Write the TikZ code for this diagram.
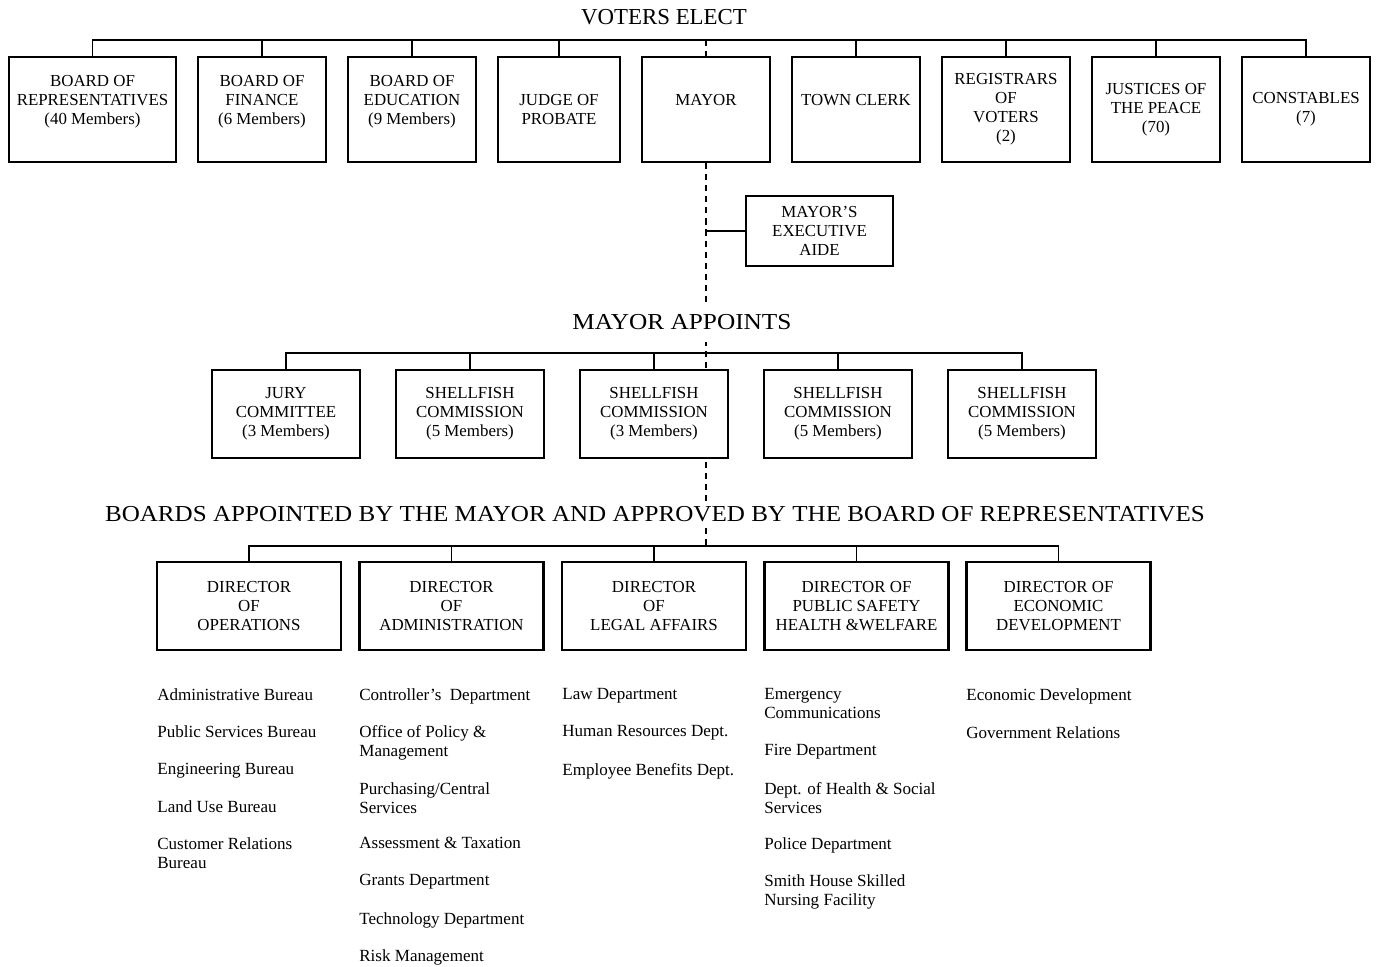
\documentclass[tikz,border=0pt]{standalone}
\usepackage{fontspec}
\usepackage{graphicx}
\setmainfont{Liberation Serif}
\usetikzlibrary{backgrounds}

\begin{document}
\begin{tikzpicture}[
    x=0.02cm, y=-0.02cm,
    office/.style={draw, line width=1.2pt, fill=white, align=center, inner sep=0pt, font=\fontsize{9.6}{10.8}\selectfont},
    elected/.style={office, minimum height=2.1cm},
    appointed/.style={office, minimum width=2.96cm, minimum height=1.76cm},
    director/.style={office, minimum width=3.68cm, minimum height=1.76cm},
    heading/.style={fill=white, inner xsep=2pt, font=\fontsize{13}{15}\selectfont},
    unit/.style={anchor=north west, align=left, inner sep=0pt, font=\fontsize{9.7}{10.8}\selectfont},
    link/.style={draw, line width=0.9pt},
    spine/.style={draw, line width=0.9pt, dash pattern=on 3.5pt off 2.8pt}
]
  % Headings
  \node[heading] (elect) at (664,17) {VOTERS ELECT};
  \node[heading, inner ysep=7pt] (appoints) at (682,322) {\resizebox{124.7pt}{\height}{MAYOR APPOINTS}};
  \node[heading, inner ysep=3pt] (approved) at (655,514) {\resizebox{626pt}{\height}{BOARDS APPOINTED BY THE MAYOR AND APPROVED BY THE BOARD OF REPRESENTATIVES}};
  % Elected offices
  \foreach \nm/\cx/\bw/\txt in {
      reps/92.5/3.34/{BOARD OF\\REPRESENTATIVES\\(40 Members)\\\mbox{}},
      fin/262/2.56/{BOARD OF\\FINANCE\\(6 Members)\\\mbox{}},
      edu/412/2.56/{BOARD OF\\EDUCATION\\(9 Members)\\\mbox{}},
      probate/559/2.44/{JUDGE OF\\PROBATE},
      mayor/706/2.56/{MAYOR\\\mbox{}},
      clerk/856/2.56/{TOWN CLERK\\\mbox{}},
      regs/1006/2.56/{REGISTRARS\\OF\\VOTERS\\(2)},
      peace/1156/2.56/{JUSTICES OF\\THE PEACE\\(70)},
      consts/1306/2.56/{CONSTABLES\\(7)}}
    \node[elected, minimum width=\bw cm] (\nm) at (\cx,109.5) {\txt};
  \node[office, minimum width=2.94cm, minimum height=1.4cm] (aide) at (819.5,231) {MAYOR'S\\EXECUTIVE\\AIDE};
  % Appointed by the mayor
  \foreach \nm/\cx/\txt in {
      jury/286/{JURY\\COMMITTEE\\(3 Members)},
      sfa/470/{SHELLFISH\\COMMISSION\\(5 Members)},
      sfb/654/{SHELLFISH\\COMMISSION\\(3 Members)},
      sfc/838/{SHELLFISH\\COMMISSION\\(5 Members)},
      sfd/1022/{SHELLFISH\\COMMISSION\\(5 Members)}}
    \node[appointed] (\nm) at (\cx,414) {\txt};
  % Directors
  \foreach \nm/\cx/\txt in {
      ops/249/{DIRECTOR\\OF\\OPERATIONS},
      admin/451.5/{DIRECTOR\\OF\\ADMINISTRATION},
      legal/654/{DIRECTOR\\OF\\LEGAL AFFAIRS},
      safety/856.5/{DIRECTOR OF\\PUBLIC SAFETY\\HEALTH \&WELFARE},
      econ/1058.5/{DIRECTOR OF\\ECONOMIC\\DEVELOPMENT}}
    \node[director] (\nm) at (\cx,606) {\txt};
  % Departments under each director
  \foreach \y/\txt [count=\k] in {694/Administrative Bureau, 731/Public Services Bureau, 769/Engineering Bureau, 806/Land Use Bureau, 843/{Customer Relations\\Bureau}}
    \node[unit] (ops\k) at (157,\y-6) {\txt};
  \foreach \y/\txt [count=\k] in {694/Controller's\ \ Department, 731/{Office of Policy \&\\Management}, 788/{Purchasing/Central\\Services}, 843/Assessment \& Taxation, 880/Grants Department, 918/Technology Department, 955/Risk Management}
    \node[unit] (admin\k) at (359,\y-6) {\txt};
  \foreach \y/\txt [count=\k] in {694/Law Department, 731/Human Resources Dept., 769/Employee Benefits Dept.}
    \node[unit] (legal\k) at (562,\y-6) {\txt};
  \foreach \y/\txt [count=\k] in {694/{Emergency\\Communications}, 750/Fire Department, 788/{Dept. of Health \& Social\\Services}, 843/Police Department, 880/{Smith House Skilled\\Nursing Facility}}
    \node[unit] (safety\k) at (764,\y-6) {\txt};
  \foreach \y/\txt [count=\k] in {694/Economic Development, 732/Government Relations}
    \node[unit] (econ\k) at (966,\y-6) {\txt};
  % Connectors, kept behind the boxes
  \begin{scope}[on background layer]
    \path[use as bounding box, fill=white] (0,0) rectangle (1380,967);
    \coordinate (bus1) at (0,40);
    \coordinate (bus2) at (0,353);
    \coordinate (bus3) at (0,546);
    \draw[link] (reps.north) -- (reps.north |- bus1) -- (consts.north |- bus1) -- (consts.north);
    \foreach \nm in {fin,edu,probate,clerk,regs,peace}
      \draw[link] (\nm.north) -- (\nm.north |- bus1);
    \draw[spine] (mayor.north |- bus1) -- (mayor.north);
    \draw[spine] (mayor.south) -- (mayor.south |- bus3);
    \draw[link] (mayor.south |- aide.west) -- (aide.west);
    \draw[link] (jury.north) -- (jury.north |- bus2) -- (sfd.north |- bus2) -- (sfd.north);
    \foreach \nm in {sfa,sfb,sfc}
      \draw[link] (\nm.north) -- (\nm.north |- bus2);
    \draw[link] (ops.north) -- (ops.north |- bus3) -- (econ.north |- bus3) -- (econ.north);
    \foreach \nm in {admin,legal,safety}
      \draw[link] (\nm.north) -- (\nm.north |- bus3);
  \end{scope}
\end{tikzpicture}
\end{document}
